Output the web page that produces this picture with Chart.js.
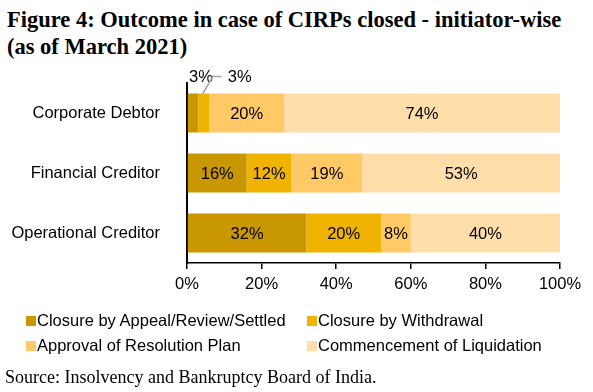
<!DOCTYPE html>
<html>
<head>
<meta charset="utf-8">
<script src="https://cdn.jsdelivr.net/npm/chart.js@4"></script>
<style>
  body { margin: 0; width: 593px; height: 392px; background: #fff; position: relative; overflow: hidden; }
  #titulo { position: absolute; left: 7px; top: 6px; font: bold 22.5px "Liberation Serif", serif; line-height: 27px; color: #000; }
  #lienzo { position: absolute; left: 0; top: 0; }
  .leyenda { position: absolute; font: 16.5px "Liberation Sans", sans-serif; color: #000; white-space: nowrap; line-height: 20px; }
  .leyenda span { display: inline-block; width: 10px; height: 10px; position: absolute; left: -11px; top: 6px; }
  #fuente { position: absolute; left: 5px; top: 367px; font: 18px "Liberation Serif", serif; color: #000; }
</style>
</head>
<body>
<div id="titulo">Figure 4: Outcome in case of CIRPs closed - initiator-wise<br>(as of March 2021)</div>
<canvas id="lienzo" width="593" height="392"></canvas>
<div id="leyendas"></div>
<div id="fuente">Source: Insolvency and Bankruptcy Board of India.</div>
<script>
// Datos (porcentajes)
const iniciadores = ["Corporate Debtor", "Financial Creditor", "Operational Creditor"];
const apelacion   = [3, 16, 32];
const retiro      = [3, 12, 20];
const resolucion  = [20, 19, 8];
const liquidacion = [74, 53, 40];
const etiquetasSeries = ["Closure by Appeal/Review/Settled", "Closure by Withdrawal",
                         "Approval of Resolution Plan", "Commencement of Liquidation"];
const colores = ["#C99700", "#F0B400", "#FFC966", "#FFDEAA"];
const marcasX = [0, 20, 40, 60, 80, 100];
const fuente = "'Liberation Sans', Arial, sans-serif";

// Leyenda en dos columnas, como en el original (posicion del texto)
const posLeyenda = [[37, 310], [318, 310], [37, 335], [318, 335]];
let htmlLeyenda = "";
etiquetasSeries.forEach((t, i) => {
  htmlLeyenda += '<div class="leyenda" style="left:' + posLeyenda[i][0] + 'px;top:' + posLeyenda[i][1] +
    'px"><span style="background:' + colores[i] + '"></span>' + t + '</div>';
});
document.getElementById("leyendas").innerHTML = htmlLeyenda;

// Plugin sencillo para escribir los porcentajes sobre las barras
const etiquetasBarras = {
  id: "etiquetasBarras",
  afterDatasetsDraw(chart) {
    const ctx = chart.ctx;
    ctx.save();
    ctx.font = "16.5px " + fuente;
    ctx.fillStyle = "#000";
    ctx.textBaseline = "middle";
    chart.data.datasets.forEach((ds, d) => {
      chart.getDatasetMeta(d).data.forEach((barra, i) => {
        const valor = ds.data[i];
        const centro = (barra.x + barra.base) / 2;
        const arriba = barra.y - barra.height / 2;
        ctx.textAlign = "center";
        if (valor >= 5) {
          ctx.fillText(valor + "%", centro, barra.y + 1);
        } else if (d === 0) {
          ctx.fillText(valor + "%", centro + 8, arriba - 16);
        } else {
          // etiqueta desplazada con linea guia
          ctx.strokeStyle = "#A6A6A6";
          ctx.lineWidth = 1.5;
          ctx.beginPath();
          ctx.moveTo(centro - 1, arriba);
          ctx.lineTo(centro + 9, arriba - 17);
          ctx.lineTo(centro + 18, arriba - 17);
          ctx.stroke();
          ctx.fillText(valor + "%", centro + 36, arriba - 16);
        }
      });
    });
    ctx.restore();
  }
};

new Chart("lienzo", {
  type: "bar",
  data: {
    labels: iniciadores,
    datasets: [apelacion, retiro, resolucion, liquidacion].map((serie, i) => ({
      label: etiquetasSeries[i],
      data: serie,
      backgroundColor: colores[i],
      borderWidth: 0,
      barPercentage: 0.65,
      categoryPercentage: 1
    }))
  },
  options: {
    indexAxis: "y",
    responsive: false,
    animation: false,
    layout: { padding: { left: 0, right: 33, top: 83, bottom: 91 } },
    plugins: { legend: { display: false }, tooltip: { enabled: false } },
    scales: {
      x: {
        stacked: true,
        min: 0, max: 100,
        afterBuildTicks: s => { s.ticks = marcasX.map(v => ({ value: v })); },
        afterFit: s => { s.height = 38; },
        grid: { drawOnChartArea: false, drawTicks: true, tickLength: 6, color: "#000", lineWidth: 1.5 },
        border: { display: true, color: "#000", width: 1.5 },
        ticks: { color: "#000", font: { family: fuente, size: 16.5 }, padding: 6,
                 maxRotation: 0, callback: v => v + "%" }
      },
      y: {
        stacked: true,
        afterFit: s => { s.width = 187; },
        grid: { display: false },
        border: { display: true, color: "#000", width: 2 },
        ticks: { color: "#000", font: { family: fuente, size: 16.5 }, padding: 19 }
      }
    }
  },
  plugins: [etiquetasBarras]
});
</script>
</body>
</html>
